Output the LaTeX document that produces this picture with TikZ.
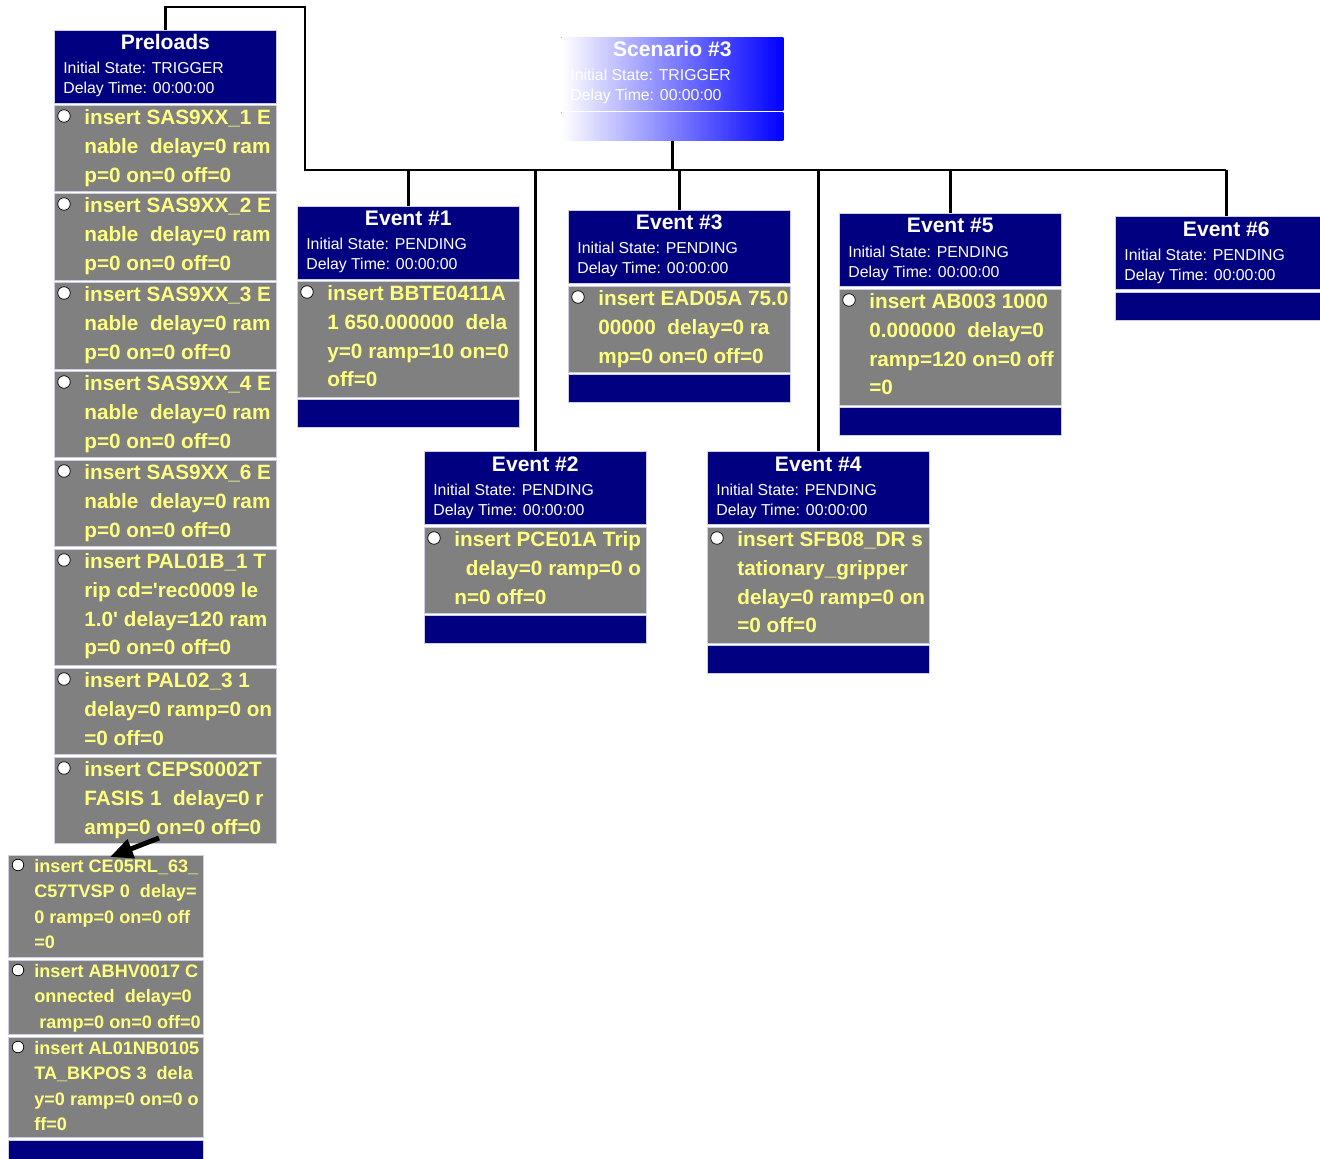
\documentclass[tikz,border=0pt]{standalone}
\usepackage{fontspec}
\setmainfont{Liberation Sans}
\usetikzlibrary{arrows.meta,calc,positioning}
\definecolor{navy}{RGB}{0,0,128}
\definecolor{itemgray}{RGB}{128,128,128}
\definecolor{itemyel}{RGB}{255,255,128}
\definecolor{edge}{RGB}{206,206,226}
\definecolor{scenblue}{RGB}{0,0,255}
\tikzset{
  hdr/.style      = {draw=edge, fill=navy, anchor=north west, inner sep=0pt,
                     minimum width=4.44cm, minimum height=1.46cm},
  scenhdr/.style  = {hdr, draw=none, left color=white, right color=scenblue},
  bar/.style      = {draw=edge, fill=navy, anchor=north west, inner sep=0pt,
                     minimum width=4.44cm, minimum height=0.56cm},
  scenbar/.style  = {bar, draw=none, left color=white, right color=scenblue},
  itembox/.style  = {draw=edge, fill=itemgray, anchor=north west, inner sep=0pt,
                     minimum width=4.44cm},
  ttl/.style      = {text=white, font=\bfseries\fontsize{12}{14}\selectfont,
                     anchor=base, inner sep=0pt},
  info/.style     = {text=white, font=\fontsize{9}{11}\selectfont,
                     anchor=base west, inner sep=0pt},
  itemtxt/.style  = {text=itemyel, font=\bfseries\fontsize{11.8}{16.4}\selectfont,
                     align=left, anchor=north west, inner sep=0pt},
  conttxt/.style  = {text=itemyel, font=\bfseries\fontsize{10.3}{14.5}\selectfont,
                     align=left, anchor=north west, inner sep=0pt},
  radio/.style    = {fill=white, draw=black, line width=0.4pt},
  wire/.style     = {line width=1.6pt, black},
  bigarrow/.style = {-{Triangle[length=13pt,width=11pt]}, line width=2.8pt},
}
% header of one event box: style, name, x, y, title, state
\newcommand{\evhead}[6][hdr]{%
  \node[#1] (#2) at (#3,#4) {};
  \node[ttl] (#2t) at ($(#2.north)+(0,20)$) {#5};
  \node[info] (#2s) at ($(#2.north west)+(9,44)$) {Initial State: #6};
  \node[info] (#2d) at ($(#2.north west)+(9,64)$) {Delay Time: 00:00:00};
}
% one action of an event box: name, x, y, height, lines
\newcommand{\evitem}[5]{%
  \node[itembox, minimum height=#4*0.02cm] (#1) at (#2,#3) {};
  \draw[radio] ($(#1.north west)+(10,11)$) circle[radius=0.125cm];
  \node[itemtxt] (#1x) at ($(#1.north west)+(30,4)$) {#5};
}
% one action of the continued list (narrower)
\newcommand{\contitem}[5]{%
  \node[itembox, minimum width=3.9cm, minimum height=#4*0.02cm] (#1) at (#2,#3) {};
  \draw[radio] ($(#1.north west)+(10,10)$) circle[radius=0.115cm];
  \node[conttxt] (#1x) at ($(#1.north west)+(26,4)$) {#5};
}

\begin{document}
\begin{tikzpicture}[x=0.02cm,y=-0.02cm]
  \useasboundingbox (0,0) rectangle (1320,1159);
  \fill[white] (0,0) rectangle (1320,1159);

  % Preloads
  \evhead{pre}{54}{30}{Preloads}{TRIGGER}
  \evitem{pre1}{54}{105}{86}{insert SAS9XX\_1 E\\nable~ delay=0 ram\\p=0 on=0 off=0}
  \evitem{pre2}{54}{193}{87}{insert SAS9XX\_2 E\\nable~ delay=0 ram\\p=0 on=0 off=0}
  \evitem{pre3}{54}{282}{87}{insert SAS9XX\_3 E\\nable~ delay=0 ram\\p=0 on=0 off=0}
  \evitem{pre4}{54}{371}{86}{insert SAS9XX\_4 E\\nable~ delay=0 ram\\p=0 on=0 off=0}
  \evitem{pre5}{54}{460}{86}{insert SAS9XX\_6 E\\nable~ delay=0 ram\\p=0 on=0 off=0}
  \evitem{pre6}{54}{549}{116}{insert PAL01B\_1 T\\rip cd=\textquotesingle rec0009 le\\1.0\textquotesingle{} delay=120 ram\\p=0 on=0 off=0}
  \evitem{pre7}{54}{668}{86}{insert PAL02\_3 1\\delay=0 ramp=0 on\\=0 off=0}
  \evitem{pre8}{54}{757}{86}{insert CEPS0002T\\FASIS 1~ delay=0 r\\amp=0 on=0 off=0}

  % continued list
  \contitem{cont1}{8}{855}{102}{insert CE05RL\_63\_\\C57TVSP 0~ delay=\\0 ramp=0 on=0 off\\=0}
  \contitem{cont2}{8}{960}{74}{insert ABHV0017 C\\onnected~ delay=0\\~ramp=0 on=0 off=0}
  \contitem{cont3}{8}{1037}{100}{insert AL01NB0105\\TA\_BKPOS 3~ dela\\y=0 ramp=0 on=0 o\\ff=0}
  \node[bar, minimum width=3.9cm] (contb) at (8,1140) {};

  % Scenario
  \evhead[scenhdr]{scen}{561}{37}{Scenario \#3}{TRIGGER}
  \node[scenbar] (scenb) at (561,112) {};

  % events
  \evhead{ev1}{297}{206}{Event \#1}{PENDING}
  \evitem{ev1i}{297}{281}{116}{insert BBTE0411A\\1 650.000000~ dela\\y=0 ramp=10 on=0\\off=0}
  \node[bar] (ev1b) at (297,399) {};

  \evhead{ev2}{424}{451}{Event \#2}{PENDING}
  \evitem{ev2i}{424}{527}{86}{insert PCE01A Trip\\~~delay=0 ramp=0 o\\n=0 off=0}
  \node[bar] (ev2b) at (424,615) {};

  \evhead{ev3}{568}{210}{Event \#3}{PENDING}
  \evitem{ev3i}{568}{286}{86}{insert EAD05A 75.0\\00000~ delay=0 ra\\mp=0 on=0 off=0}
  \node[bar] (ev3b) at (568,374) {};

  \evhead{ev4}{707}{451}{Event \#4}{PENDING}
  \evitem{ev4i}{707}{527}{116}{insert SFB08\_DR s\\tationary\_gripper\\delay=0 ramp=0 on\\=0 off=0}
  \node[bar] (ev4b) at (707,645) {};

  \evhead{ev5}{839}{213}{Event \#5}{PENDING}
  \evitem{ev5i}{839}{289}{116}{insert AB003 1000\\0.000000~ delay=0\\ramp=120 on=0 off\\=0}
  \node[bar] (ev5b) at (839,407) {};

  \evhead{ev6}{1115}{216}{Event \#6}{PENDING}
  \node[bar] (ev6b) at (1115,292) {};

  % tree
  \coordinate (bend) at (305,7);
  \coordinate (busL) at (305,170);
  \draw[wire] (pre.north) |- (bend) -- (busL) -- (ev6.north |- busL);
  \draw[wire] (scenb.south) -- (scenb.south |- busL);
  \foreach \e in {ev1,ev2,ev3,ev4,ev5,ev6}
    \draw[wire] (\e.north) -- (\e.north |- busL);

  % continuation arrow
  \coordinate (arrtail) at (159,838);
  \coordinate (arrtip) at (110,857);
  \draw[bigarrow] (arrtail) -- (arrtip);
\end{tikzpicture}
\end{document}
